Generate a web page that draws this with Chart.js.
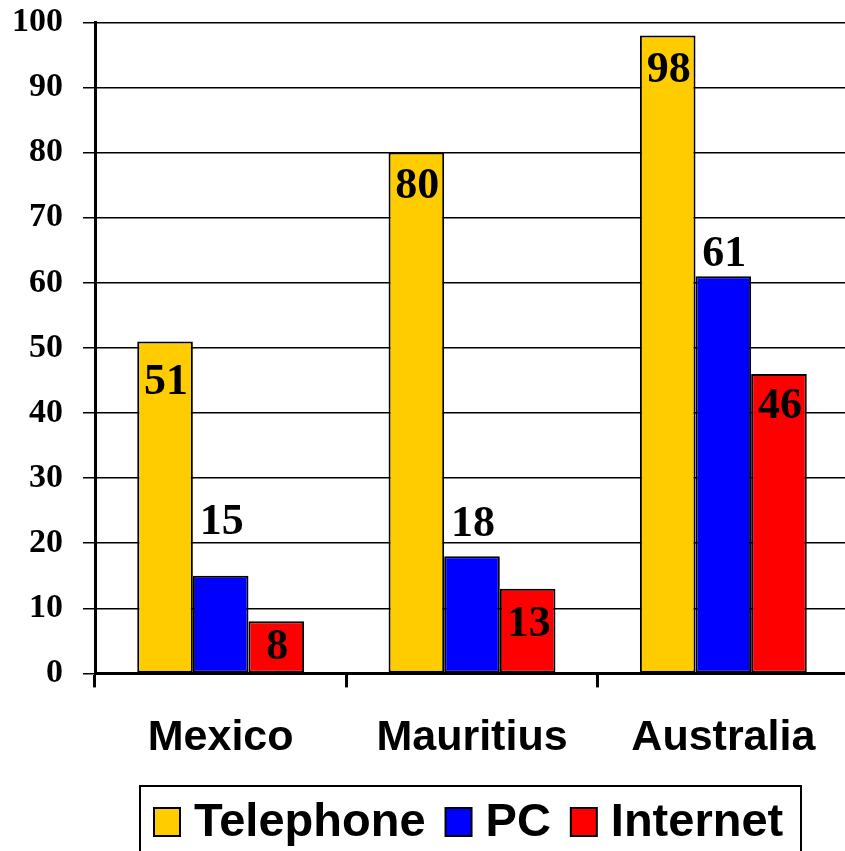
<!DOCTYPE html>
<html>
<head>
<meta charset="utf-8">
<script src="https://cdn.jsdelivr.net/npm/chart.js@4.4.1/dist/chart.umd.min.js"></script>
<style>
    html, body { margin: 0; padding: 0; background: #fff; overflow: hidden; }
    #wrap { width: 845px; height: 851px; overflow: hidden; position: relative; }
    #box { position: absolute; left: -8px; top: -18px; width: 857px; height: 869px; }
</style>
</head>
<body>
<div id="wrap"><div id="box"><canvas id="chart"></canvas></div></div>
<script>
// Chart data
const countries = ['Mexico', 'Mauritius', 'Australia'];
const telephone = [51, 80, 98];
const pc = [15, 18, 61];
const internet = [8, 13, 46];
const yTicks = [0, 10, 20, 30, 40, 50, 60, 70, 80, 90, 100];

// Label offsets from bar top (px, positive = down)
const labelOffsets = [
    [41, 34, 35],
    [-53, -32, -22],
    [26, 36, 33]
];

const serif = '"Liberation Serif", "Times New Roman", serif';
const sans = '"Liberation Sans", Arial, sans-serif';
const shiftX = 8, shiftY = 18; // canvas is offset inside the page

// Draw value labels on bars
const valueLabels = {
    id: 'valueLabels',
    afterDatasetsDraw(chart) {
        const ctx = chart.ctx;
        ctx.save();
        ctx.font = 'bold 44px ' + serif;
        ctx.fillStyle = '#000';
        ctx.textAlign = 'center';
        ctx.textBaseline = 'middle';
        chart.data.datasets.forEach((ds, i) => {
            chart.getDatasetMeta(i).data.forEach((bar, j) => {
                ctx.fillText(ds.data[j], bar.x + 1, bar.y + labelOffsets[i][j]);
            });
        });
        ctx.restore();
    }
};

// Boxed legend at the bottom
const boxLegend = {
    id: 'boxLegend',
    afterDraw(chart) {
        const ctx = chart.ctx;
        ctx.save();
        ctx.translate(shiftX, shiftY);
        ctx.strokeStyle = '#000';
        ctx.lineWidth = 2;
        ctx.strokeRect(140, 786, 661, 100);

        ctx.font = 'bold 47px ' + sans;
        ctx.textAlign = 'left';
        ctx.textBaseline = 'middle';
        let x = 154;
        const cy = 822;
        chart.data.datasets.forEach(ds => {
            ctx.fillStyle = ds.backgroundColor;
            ctx.fillRect(x, cy - 14, 26, 28);
            ctx.lineWidth = 2;
            ctx.strokeRect(x, cy - 14, 26, 28);
            ctx.fillStyle = '#000';
            ctx.fillText(ds.label, x + 40, cy + 1);
            x += 40 + ctx.measureText(ds.label).width + 20;
        });
        ctx.restore();
    }
};

new Chart(document.getElementById('chart').getContext('2d'), {
    type: 'bar',
    data: {
        labels: countries,
        datasets: [
            { label: 'Telephone', data: telephone, backgroundColor: '#FFCC00' },
            { label: 'PC', data: pc, backgroundColor: '#0000FF' },
            { label: 'Internet', data: internet, backgroundColor: '#FF0000' }
        ]
    },
    options: {
        responsive: true,
        maintainAspectRatio: false,
        animation: false,
        datasets: {
            bar: {
                borderColor: '#000',
                borderWidth: 2,
                borderSkipped: false,
                categoryPercentage: 0.664,
                barPercentage: 1
            }
        },
        layout: { padding: { top: 4, right: 0, left: 0, bottom: 62 } },
        scales: {
            x: {
                grid: {
                    offset: true,
                    drawOnChartArea: false,
                    drawTicks: true,
                    tickLength: 14,
                    color: '#000',
                    lineWidth: 3
                },
                border: { display: true, color: '#000', width: 3 },
                ticks: {
                    color: '#000',
                    padding: 25,
                    font: { family: sans, size: 43, weight: 'bold' }
                }
            },
            y: {
                min: 0,
                max: 100,
                afterBuildTicks(axis) {
                    axis.ticks = yTicks.map(v => ({ value: v }));
                },
                grid: {
                    color: '#000',
                    lineWidth: 1.5,
                    tickLength: 12
                },
                border: { display: true, color: '#000', width: 3 },
                ticks: {
                    color: '#000',
                    padding: 20,
                    font: { family: serif, size: 34, weight: 'bold' }
                }
            }
        },
        plugins: {
            tooltip: { enabled: false },
            legend: { display: false }
        }
    },
    plugins: [valueLabels, boxLegend]
});
</script>
</body>
</html>
